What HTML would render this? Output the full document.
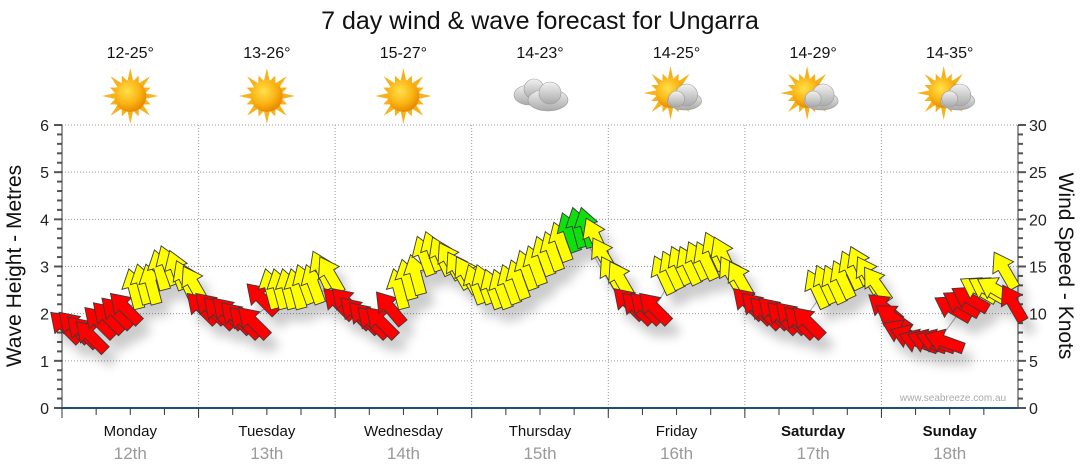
<!DOCTYPE html>
<html><head><meta charset="utf-8"><style>
html,body{margin:0;padding:0;background:#fff;width:1080px;height:475px;overflow:hidden}
svg{display:block;font-family:"Liberation Sans",sans-serif}
</style></head><body>
<svg id="chart" width="1080" height="475">
<defs>
<filter id="sh" x="-50%" y="-50%" width="200%" height="200%"><feDropShadow dx="8" dy="12" stdDeviation="5" flood-color="#000" flood-opacity="0.2"/></filter>
<radialGradient id="sunG" cx="40%" cy="35%" r="65%"><stop offset="0" stop-color="#ffe14a"/><stop offset="0.6" stop-color="#fbb414"/><stop offset="1" stop-color="#e88a00"/></radialGradient>
<linearGradient id="cloudG" x1="0" y1="0" x2="0" y2="1"><stop offset="0" stop-color="#f2f2f2"/><stop offset="1" stop-color="#a9a9a9"/></linearGradient>
</defs>
<text x="540" y="29" font-size="25" text-anchor="middle" fill="#111">7 day wind &amp; wave forecast for Ungarra</text>
<g id="grid"></g><g id="axes"></g><g id="weather"></g><g id="wave"></g><g id="arrows" filter="url(#sh)"></g>
<text x="953" y="401" font-size="10" fill="#aaa" text-anchor="middle">www.seabreeze.com.au</text>
<text transform="translate(21,266) rotate(-90)" font-size="21" text-anchor="middle" fill="#111">Wave Height - Metres</text>
<text transform="translate(1059,266) rotate(90)" font-size="21" text-anchor="middle" fill="#111">Wind Speed - Knots</text>
</svg>
<script>
const days = ["Monday","Tuesday","Wednesday","Thursday","Friday","Saturday","Sunday"];
const dates = ["12th","13th","14th","15th","16th","17th","18th"];
const temps = ["12-25°","13-26°","15-27°","14-23°","14-25°","14-29°","14-35°"];
const icons = ["sun","sun","sun","cloud","partly","partly","partly"];
const windSpeed = [
 8.5,8.5,8,7.5,9,9.5,10,10.5,12.5,13,13,14.5,15,14.5,13.5,13,
 10.5,10.5,10,10,9.5,9,9,11.5,12.5,12.5,12.5,12.5,13,13,14.5,14,
 11,11,10,9.5,9,9,10.5,12.5,13.5,14,16,16.5,16,15.5,14.5,14,
 13,13,12.5,12.5,13,13.5,14.5,15,16,16.5,17.5,18.5,19,19,18,16,
 14,13.5,11,10.5,10.5,10.5,14,14.5,15,15,15.5,15.5,16.5,16,14,13.5,
 11,10.5,10,10,9.5,9.5,9,9,12.5,13,13,13.5,14.5,15,14,13,
 10.5,9.5,8,7.5,7,7,7,7,10.5,11,11.5,12.5,12.5,12.5,14.5,11];
const windDir = [
 315,315,315,315,315,315,315,315,345,345,345,345,340,340,335,330,
 315,315,315,315,315,315,315,315,345,345,345,345,340,340,335,330,
 315,315,315,315,315,315,320,345,345,345,340,340,335,330,330,330,
 340,340,340,340,340,340,340,340,340,340,340,340,345,345,335,330,
 330,330,315,315,315,315,335,335,335,335,335,335,335,335,330,330,
 315,315,315,315,315,315,315,315,335,335,335,335,335,335,330,325,
 310,305,295,290,290,290,290,290,300,300,300,300,300,300,330,330];
const waveHeight = [
 1.9,1.8,1.9,2.0,2.3,2.5,2.7,2.6,
 2.0,2.0,1.9,2.0,2.3,2.4,2.4,2.5,
 2.1,2.0,1.9,2.2,2.7,3.0,3.2,2.9,
 2.6,2.4,2.4,2.8,3.3,3.6,3.7,3.0,
 2.4,2.1,2.0,2.6,2.9,3.0,3.1,2.9,
 2.2,2.0,1.9,1.9,2.4,2.6,2.8,2.7,
 2.0,1.6,1.5,1.5,2.0,2.1,2.4,2.3];
const leftTicks = [0,1,2,3,4,5,6];
const rightTicks = [0,5,10,15,20,25,30];

const NS="http://www.w3.org/2000/svg";
const X0=62,X1=1018,Y0=408,Y1=125;
const dayW=(X1-X0)/7;
const xW=i=>X0+(i+0.5)*(X1-X0)/windSpeed.length;
const xH=i=>X0+(i+0.5)*(X1-X0)/waveHeight.length;
const yM=v=>Y0-(v/6)*(Y0-Y1);
const yK=v=>Y0-(v/30)*(Y0-Y1);
function mk(tag,attrs,parent){const e=document.createElementNS(NS,tag);for(const k in attrs)e.setAttribute(k,attrs[k]);parent.appendChild(e);return e;}
const grid=document.getElementById('grid'),axes=document.getElementById('axes');
leftTicks.forEach(v=>{ if(v>0){const l=mk('line',{x1:X0,x2:X1,y1:yM(v),y2:yM(v),stroke:'#999','stroke-dasharray':'1,2','stroke-width':1},grid);

}
 const t=mk('text',{x:49,y:yM(v)+6,'font-size':16,'text-anchor':'end',fill:'#222'},axes);t.textContent=v;
 
 
});
rightTicks.forEach(v=>{const t=mk('text',{x:1029,y:yK(v)+6,'font-size':16,fill:'#222'},axes);t.textContent=v;
 
 });
for(let k=0;k<=30;k++){const y=yK(k);const L=k%5==0?8:5;
 mk('line',{x1:X0-L,x2:X0,y1:y,y2:y,stroke:'#555','stroke-width':2},axes);
 mk('line',{x1:X1,x2:X1+L,y1:y,y2:y,stroke:'#555','stroke-width':2},axes);}
mk('line',{x1:X0,x2:X0,y1:Y1,y2:Y0,stroke:'#333'},axes);
mk('line',{x1:X1,x2:X1,y1:Y1,y2:Y0,stroke:'#333'},axes);
mk('line',{x1:X0,x2:X1,y1:Y0,y2:Y0,stroke:'#1d4f7a','stroke-width':2},axes);
for(let d=0;d<7;d++){
 const xs=X0+d*dayW, cx=xs+dayW/2;
 if(d>0){const l=mk('line',{x1:xs,x2:xs,y1:Y1,y2:Y0+8,stroke:'#999','stroke-dasharray':'1,2'},grid);
 
 }
 for(let q=1;q<4;q++){const x=xs+q*dayW/4;mk('line',{x1:x,x2:x,y1:Y0,y2:Y0+7,stroke:'#333'},axes);}
 mk('line',{x1:xs,x2:xs,y1:Y0,y2:Y0+10,stroke:'#333'},axes);
 const bold=d>=5;
 const t=mk('text',{x:cx,y:436,'font-size':15,'text-anchor':'middle',fill:'#111','font-weight':bold?'bold':'normal'},axes);t.textContent=days[d];
 
 
 const t2=mk('text',{x:cx,y:459,'font-size':17,'text-anchor':'middle',fill:'#999'},axes);t2.textContent=dates[d];
 
 
 const t3=mk('text',{x:cx,y:58,'font-size':16,'text-anchor':'middle',fill:'#111'},axes);t3.textContent=temps[d];
 
 
 const g=mk('g',{transform:`translate(${cx},96)`},document.getElementById('weather'));
 
 
 const ic=icons[d];
 if(ic!=='cloud'){
  const sx=ic==='partly'?-6:0, sy=ic==='partly'?-3:0, r=ic==='partly'?15:16;
  for(let a=0;a<16;a++){const ang=a*Math.PI/8,len=a%2?r+6:r+12;
   const p1=[sx+Math.cos(ang-0.17)*r,sy+Math.sin(ang-0.17)*r],p2=[sx+Math.cos(ang)*len,sy+Math.sin(ang)*len],p3=[sx+Math.cos(ang+0.17)*r,sy+Math.sin(ang+0.17)*r];
   mk('polygon',{points:[p1,p2,p3].map(p=>p.join(',')).join(' '),fill:'#f6b21b'},g);}
  mk('circle',{cx:sx,cy:sy,r:r,fill:'url(#sunG)'},g);
 }
 if(ic!=='sun'){
  const cg=mk('g',{fill:'url(#cloudG)',stroke:'#9a9a9a','stroke-width':0.6},g);
  if(ic==='cloud'){
   mk('ellipse',{cx:-10,cy:-1,rx:16,ry:10},cg);mk('circle',{cx:-6,cy:-7,r:10},cg);
   mk('ellipse',{cx:8,cy:4,rx:20,ry:11},cg);mk('circle',{cx:10,cy:-3,r:11},cg);
  } else {
   mk('ellipse',{cx:8,cy:5,rx:17,ry:9},cg);mk('circle',{cx:10,cy:-1,r:11},cg);mk('circle',{cx:0,cy:3,r:8},cg);
  }
 }
}
const wp=waveHeight.map((v,i)=>xH(i)+','+yM(v)).join(' ');
const wl=mk('polyline',{points:wp,fill:'none',stroke:'#aaa','stroke-width':1},document.getElementById('wave'));


const ag=document.getElementById('arrows');
windSpeed.forEach((v,i)=>{
 const col=v<12?'#ff0000':(v<18.5?'#ffff00':'#11e011');
 const a=mk('polygon',{points:'0,-22 12,-4 5.5,-4 5.5,19 -5.5,19 -5.5,-4 -12,-4',fill:col,stroke:'#3a3a3a','stroke-width':0.9,
  transform:`translate(${xW(i)},${yK(v)}) rotate(${windDir[i]})`},ag);
 
 
});
</script>
</body></html>
